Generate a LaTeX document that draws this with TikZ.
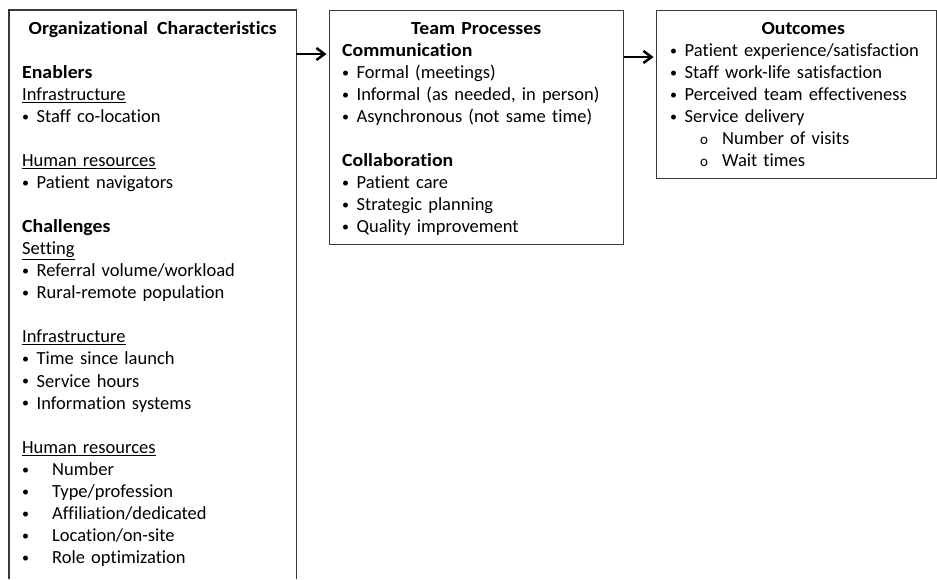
\documentclass[tikz,border=0pt]{standalone}
\usepackage{fontspec}
\setmainfont{Carlito}[Ligatures=NoCommon,BoldFeatures={FakeStretch=1.07}]
\usetikzlibrary{arrows.meta}
\usetikzlibrary{positioning}

\newcommand{\dotmark}{\raisebox{1.2pt}{\fontsize{14}{14}\selectfont\textbullet}}
\newcommand{\bul}[1]{\makebox[14.5pt][l]{\dotmark}#1}
\newcommand{\bulwide}[1]{\makebox[30pt][l]{\dotmark}#1}
\newcommand{\subbul}[1]{\hspace*{31pt}\makebox[22pt][l]{\fontsize{15}{15}\selectfont o}#1}
\newcommand{\boxtitle}[2][0pt]{\strut\makebox[\linewidth]{\hspace{#1}\textbf{#2}}}

\begin{document}
\begin{tikzpicture}[x=1pt,y=-1pt,
  box/.style={draw=black!78,line width=1.4pt,inner sep=0pt,anchor=north west},
  txt/.style={font=\fontsize{18.5}{22.05}\selectfont,align=left,inner sep=0pt,anchor=north west},
  link/.style={line width=1.9pt,-{Straight Barb[length=8pt,width=12pt,line width=2.5pt]},shorten >=2.5pt}]

\useasboundingbox (0,0) rectangle (937,579);

% the three boxes
\node[minimum width=287pt,minimum height=569pt,inner sep=0pt,anchor=north west] (orgchar) at (9,10) {};
\draw[draw=black!78,line width=1.4pt] (orgchar.south west) -- (orgchar.north west) -- (orgchar.north east) -- (orgchar.south east);
\node[box,minimum width=294pt,minimum height=234pt] (teamproc) at (329,10) {};
\node[box,minimum width=280pt,minimum height=168pt] (outcomes) at (656,10) {};

% texts
\node[txt,text width=261pt] (orgtxt) at ([xshift=13pt,yshift=-8.6pt]orgchar.north west) {%
  \boxtitle{Organizational\hspace{0.5em}Characteristics}\\[22.05pt]
  \textbf{Enablers}\\
  \underline{Infrastructure}\\
  \bul{Staff co-location}\\[22.05pt]
  \underline{Human resources}\\
  \bul{Patient navigators}\\[22.05pt]
  \textbf{Challenges}\\
  \underline{Setting}\\
  \bul{Referral volume/workload}\\
  \bul{Rural-remote population}\\[22.05pt]
  \underline{Infrastructure}\\
  \bul{Time since launch}\\
  \bul{Service hours}\\
  \bul{Information systems}\\[22.05pt]
  \underline{Human resources}\\
  \bulwide{Number}\\
  \bulwide{Type/profession}\\
  \bulwide{Affiliation/dedicated}\\
  \bulwide{Location/on-site}\\
  \bulwide{Role optimization}};

\node[txt,text width=268pt] (teamtxt) at ([xshift=13pt,yshift=-8.6pt]teamproc.north west) {%
  \boxtitle{Team Processes}\\
  \textbf{Communication}\\
  \bul{Formal (meetings)}\\
  \bul{Informal (as needed, in person)}\\
  \bul{Asynchronous (not same time)}\\[22.05pt]
  \textbf{Collaboration}\\
  \bul{Patient care}\\
  \bul{Strategic planning}\\
  \bul{Quality improvement}};

\node[txt,text width=254pt] (outtxt) at ([xshift=13pt,yshift=-8.6pt]outcomes.north west) {%
  \boxtitle[14pt]{Outcomes}\\
  \hspace*{1pt}\bul{Patient experience/satisfaction}\\
  \hspace*{1pt}\bul{Staff work-life satisfaction}\\
  \hspace*{1pt}\bul{Perceived team effectiveness}\\
  \hspace*{1pt}\bul{Service delivery}\\
  \subbul{Number of visits}\\
  \subbul{Wait times}};

% arrows
\draw[link] ([yshift=-44pt]orgchar.north east) -- ([yshift=-44pt]teamproc.north west);
\draw[link] ([yshift=-47pt]teamproc.north east) -- ([yshift=-47pt]outcomes.north west);
\end{tikzpicture}
\end{document}
